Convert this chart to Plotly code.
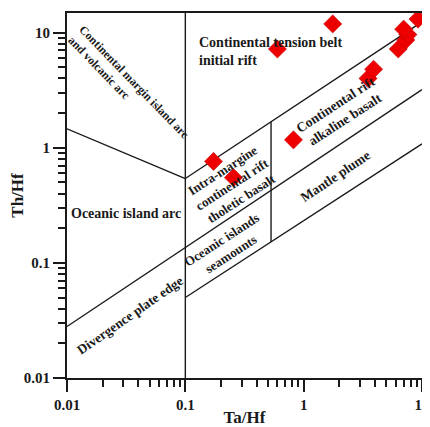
import plotly.graph_objects as go

# Sample data (Ta/Hf, Th/Hf)
ta_hf = [0.173, 0.255, 0.60, 0.82, 1.76, 3.5, 3.9, 6.3, 7.3, 7.6, 7.0, 9.25]
th_hf = [0.76, 0.55, 7.2, 1.17, 11.9, 4.0, 4.8, 7.2, 8.6, 9.6, 10.7, 13.1]

# Field boundary lines (x list, y list)
b_vert1_x = [0.1, 0.1]
b_vert1_y = [0.01, 15]
b_arc_x = [0.01, 0.1]
b_arc_y = [1.46, 0.54]
b_l1_x = [0.1, 10]
b_l1_y = [0.54, 12.4]
b_l2_x = [0.01, 10]
b_l2_y = [0.028, 3.2]
b_l3_x = [0.1, 10]
b_l3_y = [0.05, 1.08]
b_vert2_x = [0.53, 0.53]
b_vert2_y = [0.152, 1.68]

boundaries = [
    (b_vert1_x, b_vert1_y),
    (b_arc_x, b_arc_y),
    (b_l1_x, b_l1_y),
    (b_l2_x, b_l2_y),
    (b_l3_x, b_l3_y),
    (b_vert2_x, b_vert2_y),
]

# Field labels: text, log10 x, log10 y, angle, align, size
labels = [
    ("Continental margin island arc<br>and volcanic arc", -1.475, 0.525, 46, "left", 11.8),
    ("Continental tension belt<br>initial rift", -0.284, 0.836, 0, "left", 14),
    ("Oceanic island arc", -1.50, -0.569, 0, "center", 14),
    ("Divergence plate edge", -1.47, -1.455, -35, "center", 13.5),
    ("Intra-margine<br>continental rift<br>tholetic basalt", -0.606, -0.317, -33, "center", 13),
    ("Oceanic islands<br>seamounts", -0.656, -0.86, -33, "center", 13),
    ("Continental rift<br>alkaline basalt", 0.307, 0.307, -33, "center", 13.5),
    ("Mantle plume", 0.265, -0.248, -34, "center", 13.5),
]

FONT = "Liberation Serif"
INK = "#1a1a1a"

fig = go.Figure()
for bx, by in boundaries:
    fig.add_trace(go.Scatter(x=bx, y=by, mode="lines",
                             line=dict(color=INK, width=1.4),
                             showlegend=False, hoverinfo="skip"))

fig.add_trace(go.Scatter(x=ta_hf, y=th_hf, mode="markers",
                         marker=dict(symbol="diamond", size=14, color="#ee0000",
                                     line=dict(color="#c00000", width=0.5)),
                         showlegend=False))

for txt, lx, ly, ang, al, sz in labels:
    fig.add_annotation(x=lx, y=ly, xref="x", yref="y", text=txt, showarrow=False,
                       textangle=ang, align=al,
                       font=dict(family=FONT, size=sz, color=INK, weight="bold"))

axis_common = dict(
    type="log", showline=True, linecolor=INK, linewidth=2, mirror=True,
    showgrid=False, zeroline=False, ticks="outside", ticklen=12, tickwidth=1.5,
    tickcolor=INK, automargin=False,
    tickfont=dict(family=FONT, size=15, color=INK, weight="bold"),
    minor=dict(ticks="outside", ticklen=7, tickwidth=1.5, tickcolor=INK,
               dtick="D1", showgrid=False),
)

fig.update_xaxes(**axis_common, range=[-2, 1],
                 tickvals=[0.01, 0.1, 1, 10], ticktext=["0.01", "0.1", "1", "10"],
                 title=dict(text="Ta/Hf", standoff=9,
                            font=dict(family=FONT, size=17, color=INK, weight="bold")))
fig.update_yaxes(**axis_common, range=[-2, 1.17],
                 tickvals=[0.01, 0.1, 1, 10], ticktext=["0.01", "0.1", "1", "10"],
                 title=dict(text="Th/Hf", standoff=4,
                            font=dict(family=FONT, size=17, color=INK, weight="bold")))

# page body adds an 8px offset, so the figure is 422x419 placed at (8, 8)
fig.update_layout(width=422, height=419, margin=dict(l=59, r=8, t=5, b=49),
                  paper_bgcolor="white", plot_bgcolor="white")

fig.write_html("out.html")
